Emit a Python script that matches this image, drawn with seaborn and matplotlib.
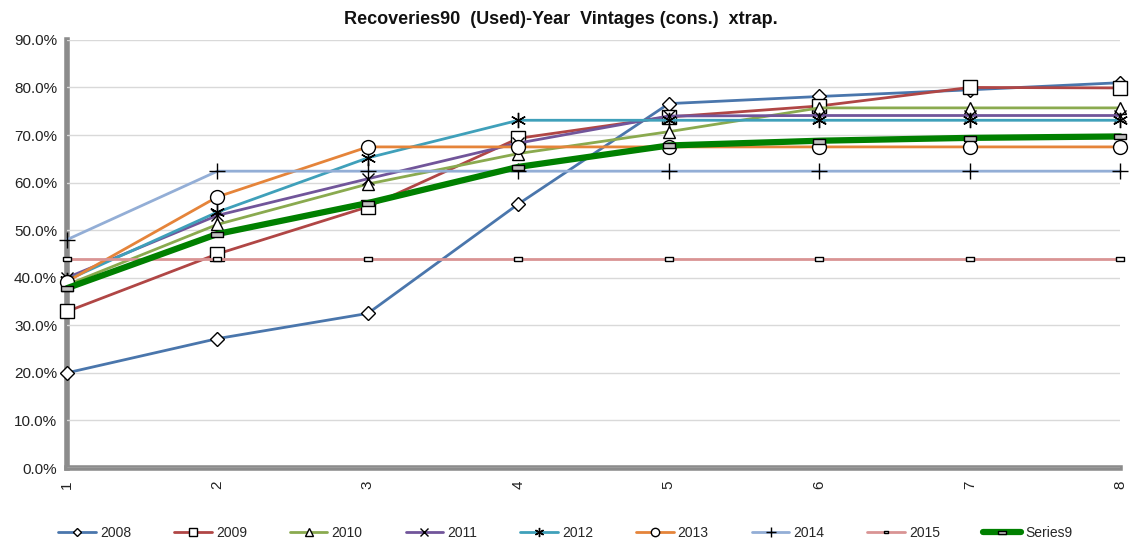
import numpy as np
import pandas as pd
import matplotlib
matplotlib.use("Agg")
import matplotlib.pyplot as plt
import seaborn as sns
from matplotlib.ticker import PercentFormatter, MultipleLocator

# development periods
periods = [1, 2, 3, 4, 5, 6, 7, 8]

# recovery rates per vintage (%)
v2008 = [20.0, 27.2, 32.5, 55.5, 76.6, 78.1, 79.5, 81.0]
v2009 = [32.9, 45.0, 54.9, 69.3, 73.8, 76.1, 80.0, 79.9]
v2010 = [38.5, 51.2, 59.7, 66.1, 70.7, 75.7, 75.7, 75.7]
v2011 = [40.0, 53.1, 60.8, 68.3, 74.0, 74.1, 74.1, 74.1]
v2012 = [39.5, 53.8, 65.2, 73.1, 73.1, 73.1, 73.1, 73.1]
v2013 = [39.2, 57.0, 67.5, 67.5, 67.5, 67.5, 67.5, 67.5]
v2014 = [48.0, 62.4, 62.4, 62.4, 62.4, 62.4, 62.4, 62.4]
v2015 = [44.0, 44.0, 44.0, 44.0, 44.0, 44.0, 44.0, 44.0]
series9 = [37.8, 49.2, 55.7, 63.3, 67.8, 68.8, 69.4, 69.7]

names = ["2008", "2009", "2010", "2011", "2012", "2013", "2014", "2015", "Series9"]
values = [v2008, v2009, v2010, v2011, v2012, v2013, v2014, v2015, series9]
colors = ["#4a76ac", "#b04645", "#8aaa4f", "#71559a", "#3fa0ba", "#e5843a",
          "#93aed6", "#d99494", "#008000"]

dash_marker = [(-1, -0.4), (1, -0.4), (1, 0.4), (-1, 0.4), (-1, -0.4)]
markers = ["D", "s", "^", "x", (6, 2, 0), "o", "+", dash_marker, dash_marker]
msizes = [7, 10, 9, 9, 11, 10, 11, 6, 9]
faces = ["white"] * 8 + ["#c0c0c0"]
widths = [2, 2, 2, 2, 2, 2, 2, 2, 4.5]

sns.set_theme(style="white")
plt.rcParams["font.family"] = ["Liberation Sans", "DejaVu Sans"]

fig = plt.figure(figsize=(11.35, 5.44), dpi=100)
ax = fig.add_axes([0.059, 0.1397, 0.928, 0.787])

for name, vals, col, mk, ms, fc, lw in zip(names, values, colors, markers,
                                            msizes, faces, widths):
    df = pd.DataFrame({"period": periods, "rate": vals})
    sns.lineplot(data=df, x="period", y="rate", color=col, linewidth=lw,
                 marker=mk, markersize=ms, markerfacecolor=fc,
                 markeredgecolor="black", markeredgewidth=1.0,
                 label=name, ax=ax, clip_on=False)

ax.set_xlim(1, 8)
ax.set_ylim(0, 90)
ax.yaxis.set_major_locator(MultipleLocator(10))
ax.yaxis.set_minor_locator(MultipleLocator(2))
ax.xaxis.set_major_locator(MultipleLocator(1))
ax.xaxis.set_minor_locator(MultipleLocator(0.2))
ax.yaxis.set_major_formatter(PercentFormatter(decimals=1))
ax.set_xlabel("")
ax.set_ylabel("")
ax.grid(axis="y", color="#d9d9d9", linewidth=1)
ax.set_axisbelow(True)

for side in ["top", "right"]:
    ax.spines[side].set_visible(False)
for side in ["left", "bottom"]:
    ax.spines[side].set_color("#8c8c8c")
    ax.spines[side].set_linewidth(4)
    ax.spines[side].set_zorder(0)

ax.tick_params(axis="both", which="both", direction="out", color="#8c8c8c")
ax.tick_params(axis="both", which="major", length=4, width=3, labelsize=11,
               labelcolor="#222222")
ax.tick_params(axis="both", which="minor", length=3, width=3)
ax.tick_params(axis="x", which="major", labelrotation=90, pad=5)
ax.tick_params(axis="y", which="major", pad=3)

fig.text(561 / 1135, 1 - 20 / 544,
         "Recoveries90  (Used)-Year  Vintages (cons.)  xtrap.",
         fontsize=13, fontweight="bold", ha="center", va="center",
         color="#111111")

handles, labels = ax.get_legend_handles_labels()
ax.legend(handles, labels, loc="center", bbox_to_anchor=(0.473, -0.152),
          ncol=9, frameon=False, fontsize=10, markerscale=0.6,
          handlelength=2.7, columnspacing=3.1, handletextpad=0.3)

fig.savefig("out.png", dpi=100)
